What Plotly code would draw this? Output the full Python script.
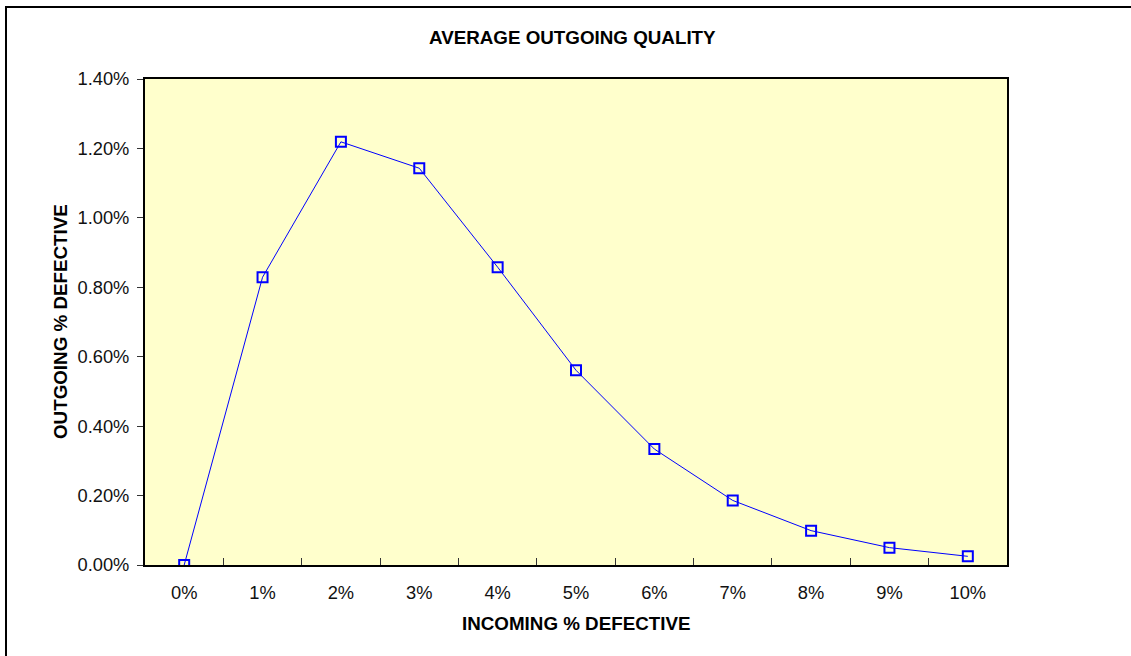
import plotly.graph_objects as go

# Incoming defect rate (category labels) and average outgoing quality (fraction defective)
incoming = ["0%", "1%", "2%", "3%", "4%", "5%", "6%", "7%", "8%", "9%", "10%"]
outgoing = [0.0, 0.00829, 0.01219, 0.01143, 0.00858, 0.00561,
            0.00334, 0.00186, 0.00099, 0.00050, 0.00025]
y_ticks = [0.0, 0.002, 0.004, 0.006, 0.008, 0.010, 0.012, 0.014]

FONT = "Liberation Sans, Arial, sans-serif"
W, H = 1131, 656
L, R, T, B = 145, 1007, 79, 565  # plot area in pixels
TICK_SIZE = 18.3
TITLE_SIZE = 18.8

fig = go.Figure()
fig.add_trace(go.Scatter(
    x=incoming, y=outgoing, mode="lines+markers",
    line=dict(color="#0000FF", width=1),
    marker=dict(symbol="square-open", size=10, color="#0000FF",
                line=dict(color="#0000FF", width=2)),
    hoverinfo="x+y", showlegend=False,
))

fig.update_layout(
    width=W, height=H,
    margin=dict(l=L, r=W - R, t=T, b=H - B, pad=0),
    paper_bgcolor="white",
    plot_bgcolor="#FFFFCC",
    font=dict(family=FONT, size=TICK_SIZE, color="#111111"),
    xaxis=dict(
        type="category", tickson="boundaries", ticks="inside",
        ticklen=7, tickwidth=1, tickcolor="#333333",
        showgrid=False, zeroline=False,
        showline=True, linewidth=2, linecolor="black", mirror=True,
        ticklabelstandoff=10,
        range=[-0.5, 10.5],
    ),
    yaxis=dict(
        range=[0, 0.014], tickvals=y_ticks, tickformat=".2%",
        ticks="outside", ticklen=6, tickwidth=1, tickcolor="#333333",
        showgrid=False, zeroline=False,
        showline=True, linewidth=2, linecolor="black", mirror=True,
        ticklabelstandoff=4,
    ),
    annotations=[
        dict(text="<b>AVERAGE OUTGOING QUALITY</b>", xref="paper", yref="paper",
             x=(572 - L) / (R - L), y=(B - 37) / (B - T),
             xanchor="center", yanchor="middle", showarrow=False,
             font=dict(family=FONT, size=TITLE_SIZE, color="black")),
        dict(text="<b>INCOMING % DEFECTIVE</b>", xref="paper", yref="paper",
             x=(576 - L) / (R - L), y=(B - 623) / (B - T),
             xanchor="center", yanchor="middle", showarrow=False,
             font=dict(family=FONT, size=TITLE_SIZE, color="black")),
        dict(text="<b>OUTGOING % DEFECTIVE</b>", xref="paper", yref="paper",
             x=(60 - L) / (R - L), y=(B - 322) / (B - T), textangle=-90,
             xanchor="center", yanchor="middle", showarrow=False,
             font=dict(family=FONT, size=TITLE_SIZE, color="black")),
    ],
    shapes=[
        # outer chart-area border
        dict(type="rect", xref="paper", yref="paper",
             x0=(6 - L) / (R - L), x1=(1145 - L) / (R - L),
             y0=(B - 670) / (B - T), y1=(B - 7) / (B - T),
             line=dict(color="black", width=2), layer="below"),
    ],
)

fig.write_html("out.html")
